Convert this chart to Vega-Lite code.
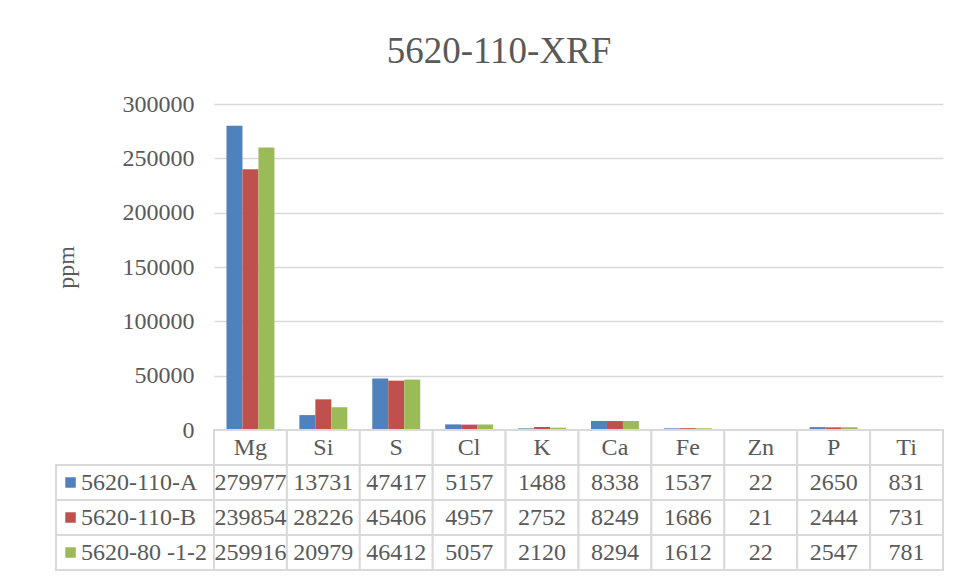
{
  "$schema": "https://vega.github.io/schema/vega-lite/v6.json",
  "autosize": {"type": "pad"},
  "padding": {"left": 54, "top": 33, "right": 5, "bottom": 5},
  "background": "white",
  "title": {"text": "5620-110-XRF", "font": "Liberation Serif", "fontSize": 37, "fontWeight": "normal", "color": "#595959", "offset": 21, "anchor": "middle"},
  "config": {"view": {"stroke": null}, "font": "Liberation Serif"},
  "datasets": {
    "xrf": [
      {"element": "Mg", "series": "5620-110-A", "ppm": 279977},
      {"element": "Si", "series": "5620-110-A", "ppm": 13731},
      {"element": "S", "series": "5620-110-A", "ppm": 47417},
      {"element": "Cl", "series": "5620-110-A", "ppm": 5157},
      {"element": "K", "series": "5620-110-A", "ppm": 1488},
      {"element": "Ca", "series": "5620-110-A", "ppm": 8338},
      {"element": "Fe", "series": "5620-110-A", "ppm": 1537},
      {"element": "Zn", "series": "5620-110-A", "ppm": 22},
      {"element": "P", "series": "5620-110-A", "ppm": 2650},
      {"element": "Ti", "series": "5620-110-A", "ppm": 831},
      {"element": "Mg", "series": "5620-110-B", "ppm": 239854},
      {"element": "Si", "series": "5620-110-B", "ppm": 28226},
      {"element": "S", "series": "5620-110-B", "ppm": 45406},
      {"element": "Cl", "series": "5620-110-B", "ppm": 4957},
      {"element": "K", "series": "5620-110-B", "ppm": 2752},
      {"element": "Ca", "series": "5620-110-B", "ppm": 8249},
      {"element": "Fe", "series": "5620-110-B", "ppm": 1686},
      {"element": "Zn", "series": "5620-110-B", "ppm": 21},
      {"element": "P", "series": "5620-110-B", "ppm": 2444},
      {"element": "Ti", "series": "5620-110-B", "ppm": 731},
      {"element": "Mg", "series": "5620-80 -1-2", "ppm": 259916},
      {"element": "Si", "series": "5620-80 -1-2", "ppm": 20979},
      {"element": "S", "series": "5620-80 -1-2", "ppm": 46412},
      {"element": "Cl", "series": "5620-80 -1-2", "ppm": 5057},
      {"element": "K", "series": "5620-80 -1-2", "ppm": 2120},
      {"element": "Ca", "series": "5620-80 -1-2", "ppm": 8294},
      {"element": "Fe", "series": "5620-80 -1-2", "ppm": 1612},
      {"element": "Zn", "series": "5620-80 -1-2", "ppm": 22},
      {"element": "P", "series": "5620-80 -1-2", "ppm": 2547},
      {"element": "Ti", "series": "5620-80 -1-2", "ppm": 781}
    ],
    "elements": [
      {"element": "Mg"}, {"element": "Si"}, {"element": "S"}, {"element": "Cl"}, {"element": "K"},
      {"element": "Ca"}, {"element": "Fe"}, {"element": "Zn"}, {"element": "P"}, {"element": "Ti"}
    ],
    "series": [
      {"series": "5620-110-A"}, {"series": "5620-110-B"}, {"series": "5620-80 -1-2"}
    ]
  },
  "columns": 2,
  "spacing": 0,
  "bounds": "flush",
  "concat": [
    {
      "width": 158, "height": 326,
      "data": {"values": []},
      "mark": "text",
      "encoding": {}
    },
    {
      "width": 729, "height": 326,
      "data": {"name": "xrf"},
      "mark": {"type": "bar"},
      "encoding": {
        "x": {"field": "element", "type": "nominal", "scale": {"domain": ["Mg","Si","S","Cl","K","Ca","Fe","Zn","P","Ti"], "paddingInner": 0, "paddingOuter": 0}, "axis": null},
        "xOffset": {"field": "series", "type": "nominal", "scale": {"domain": ["5620-110-A","5620-110-B","5620-80 -1-2"], "paddingInner": 0, "paddingOuter": 0.78}},
        "y": {"field": "ppm", "type": "quantitative", "scale": {"domain": [0, 300000], "nice": false},
          "axis": {"title": "ppm", "values": [0, 50000, 100000, 150000, 200000, 250000, 300000], "format": "d", "grid": true, "gridColor": "#d9d9d9", "gridWidth": 1.5, "domain": false, "ticks": false, "labelPadding": 20, "labelFont": "Liberation Serif", "labelFontSize": 24, "labelColor": "#595959", "titleFont": "Liberation Serif", "titleFontSize": 24, "titleFontWeight": "normal", "titleColor": "#595959", "titlePadding": 44}},
        "color": {"field": "series", "type": "nominal", "scale": {"domain": ["5620-110-A","5620-110-B","5620-80 -1-2"], "range": ["#4F81BD","#C0504D","#9BBB59"]}, "legend": null}
      }
    },
    {
      "width": 158, "height": 140,
      "data": {"name": "series"},
      "encoding": {
        "y": {"field": "series", "type": "nominal", "scale": {"domain": ["header","5620-110-A","5620-110-B","5620-80 -1-2"], "paddingInner": 0, "paddingOuter": 0}, "axis": null}
      },
      "layer": [
        {
          "mark": {"type": "rect", "fill": "white", "stroke": "#d9d9d9", "strokeWidth": 2},
          "encoding": {
            "x": {"datum": "k", "type": "nominal", "scale": {"domain": ["k"], "paddingInner": 0, "paddingOuter": 0}, "axis": null}
          }
        },
        {
          "mark": {"type": "square", "size": 110, "opacity": 1, "filled": true},
          "encoding": {
            "x": {"datum": "k", "type": "nominal", "bandPosition": 0.092},
            "color": {"field": "series", "type": "nominal", "scale": {"domain": ["5620-110-A","5620-110-B","5620-80 -1-2"], "range": ["#4F81BD","#C0504D","#9BBB59"]}, "legend": null}
          }
        },
        {
          "mark": {"type": "text", "align": "left", "fontSize": 24, "color": "#595959", "font": "Liberation Serif"},
          "encoding": {
            "x": {"datum": "k", "type": "nominal", "bandPosition": 0.158},
            "text": {"field": "series", "type": "nominal"}
          }
        }
      ]
    },
    {
      "width": 729, "height": 140,
      "layer": [
        {
          "data": {"name": "xrf"},
          "mark": {"type": "rect", "fill": "white", "stroke": "#d9d9d9", "strokeWidth": 2},
          "encoding": {
            "x": {"field": "element", "type": "nominal", "scale": {"domain": ["Mg","Si","S","Cl","K","Ca","Fe","Zn","P","Ti"], "paddingInner": 0, "paddingOuter": 0}, "axis": null},
            "y": {"field": "series", "type": "nominal", "scale": {"domain": ["header","5620-110-A","5620-110-B","5620-80 -1-2"], "paddingInner": 0, "paddingOuter": 0}, "axis": null}
          }
        },
        {
          "data": {"name": "elements"},
          "mark": {"type": "rect", "fill": "white", "stroke": "#d9d9d9", "strokeWidth": 2},
          "encoding": {
            "x": {"field": "element", "type": "nominal"},
            "y": {"datum": "header", "type": "nominal"}
          }
        },
        {
          "data": {"name": "xrf"},
          "mark": {"type": "text", "fontSize": 24, "color": "#595959", "font": "Liberation Serif"},
          "encoding": {
            "x": {"field": "element", "type": "nominal"},
            "y": {"field": "series", "type": "nominal"},
            "text": {"field": "ppm", "type": "quantitative", "format": "d"}
          }
        },
        {
          "data": {"name": "elements"},
          "mark": {"type": "text", "fontSize": 24, "color": "#595959", "font": "Liberation Serif"},
          "encoding": {
            "x": {"field": "element", "type": "nominal"},
            "y": {"datum": "header", "type": "nominal"},
            "text": {"field": "element", "type": "nominal"}
          }
        }
      ]
    }
  ]
}
